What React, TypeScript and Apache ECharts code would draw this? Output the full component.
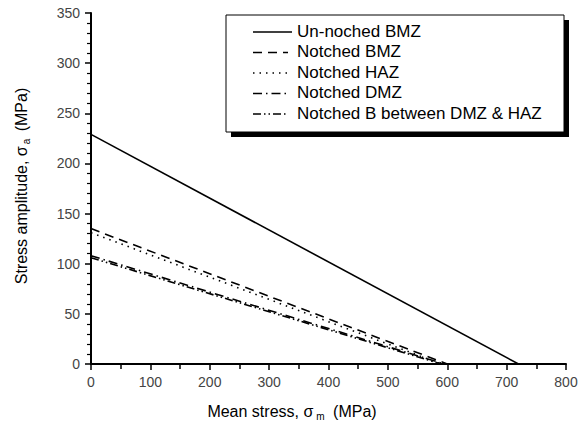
import React, { useEffect, useRef } from "react";
import * as echarts from "echarts";

const seriesNames = [
  "Un-noched BMZ",
  "Notched BMZ",
  "Notched HAZ",
  "Notched DMZ",
  "Notched B between DMZ & HAZ",
];

// [mean stress, stress amplitude] endpoints
const unnotchedBMZ = [
  [0, 229],
  [720, 0],
];
const notchedBMZ = [
  [0, 135],
  [600, 0],
];
const notchedHAZ = [
  [0, 131],
  [590, 0],
];
const notchedDMZ = [
  [0, 108],
  [595, 0],
];
const notchedBetween = [
  [0, 106],
  [590, 0],
];

const seriesData = [unnotchedBMZ, notchedBMZ, notchedHAZ, notchedDMZ, notchedBetween];

const dashPatterns: (number[] | "solid")[] = [
  "solid",
  [9, 6],
  [1.5, 5],
  [9, 4, 1.5, 4],
  [8, 3, 1.5, 3, 1.5, 3],
];

const xTicks = { min: 0, max: 800, interval: 100 };
const yTicks = { min: 0, max: 350, interval: 50 };

const FONT = "'Liberation Sans', Arial, Helvetica, sans-serif";

export default function App() {
  const ref = useRef<HTMLDivElement>(null);

  useEffect(() => {
    if (!ref.current) return;
    const chart = echarts.init(ref.current, undefined, { renderer: "svg" });

    const legendLeft = 226;
    const legendTop = 15;
    const legendW = 338;
    const legendH = 117;
    const rowY = [31, 51.5, 72, 92.5, 113];

    const legendElements: any[] = [
      {
        type: "rect",
        shape: { x: legendLeft + 5, y: legendTop + 5, width: legendW, height: legendH },
        style: { fill: "#000" },
        z: 100,
      },
      {
        type: "rect",
        shape: { x: legendLeft, y: legendTop, width: legendW, height: legendH },
        style: { fill: "#fff", stroke: "#000", lineWidth: 1 },
        z: 101,
      },
    ];
    seriesNames.forEach((name, i) => {
      const dash = dashPatterns[i];
      legendElements.push({
        type: "line",
        shape: { x1: 253, y1: rowY[i] + 1, x2: i === 0 ? 292 : 288, y2: rowY[i] + 1 },
        style: {
          stroke: "#000",
          lineWidth: 1.5,
          lineDash: dash === "solid" ? null : dash,
        },
        z: 102,
      });
      legendElements.push({
        type: "text",
        x: 297,
        y: rowY[i],
        style: {
          text: name,
          fill: "#000",
          font: `17px ${FONT}`,
          textVerticalAlign: "middle",
          verticalAlign: "middle",
        },
        z: 102,
      });
    });

    const option: any = {
      animation: false,
      backgroundColor: "#fff",
      grid: { left: 91, right: 22, top: 13, bottom: 59, containLabel: false },
      xAxis: {
        type: "value",
        min: xTicks.min,
        max: xTicks.max,
        interval: xTicks.interval,
        axisLine: { show: true, onZero: false, lineStyle: { color: "#000", width: 2 } },
        axisTick: { show: true, length: 6, lineStyle: { color: "#000", width: 1.5 } },
        minorTick: { show: true, splitNumber: 2, length: 5, lineStyle: { color: "#000", width: 1.5 } },
        splitLine: { show: false },
        minorSplitLine: { show: false },
        axisLabel: { fontSize: 14, color: "#444", margin: 11, fontFamily: FONT },
      },
      yAxis: {
        type: "value",
        min: yTicks.min,
        max: yTicks.max,
        interval: yTicks.interval,
        axisLine: { show: true, onZero: false, lineStyle: { color: "#000", width: 2 } },
        axisTick: { show: true, length: 6, lineStyle: { color: "#000", width: 1.5 } },
        minorTick: { show: true, splitNumber: 5, length: 4, lineStyle: { color: "#000", width: 1.2 } },
        splitLine: { show: false },
        minorSplitLine: { show: false },
        axisLabel: { fontSize: 14, color: "#444", margin: 11, fontFamily: FONT },
      },
      series: seriesNames.map((name, i) => ({
        name,
        type: "line",
        data: seriesData[i],
        symbol: "none",
        lineStyle: { color: "#000", width: 1.6, type: dashPatterns[i] },
      })),
      graphic: [
        ...legendElements,
        {
          type: "text",
          x: 292,
          y: 411,
          style: {
            text: "{a|Mean stress, σ}{s|m}{a| (MPa)}",
            align: "center",
            verticalAlign: "middle",
            rich: {
              a: { fontSize: 16, fontFamily: FONT, fill: "#000", color: "#000", lineHeight: 20, verticalAlign: "middle" },
              s: { fontSize: 10, fontFamily: FONT, fill: "#000", color: "#000", lineHeight: 10, verticalAlign: "bottom", padding: [0, 4, 0, 3] },
            },
          },
        },
        {
          type: "text",
          x: 21,
          y: 186,
          rotation: Math.PI / 2,
          style: {
            text: "{a|Stress amplitude, σ}{s|a}{a| (MPa)}",
            align: "center",
            verticalAlign: "middle",
            rich: {
              a: { fontSize: 16, fontFamily: FONT, fill: "#000", color: "#000", lineHeight: 20, verticalAlign: "middle" },
              s: { fontSize: 10, fontFamily: FONT, fill: "#000", color: "#000", lineHeight: 10, verticalAlign: "bottom", padding: [0, 3, 0, 2] },
            },
          },
        },
      ],
    };

    chart.setOption(option);
    return () => chart.dispose();
  }, []);

  return (
    <div
      ref={ref}
      style={{ position: "fixed", left: 0, top: 0, width: 588, height: 423, background: "#fff" }}
    />
  );
}
